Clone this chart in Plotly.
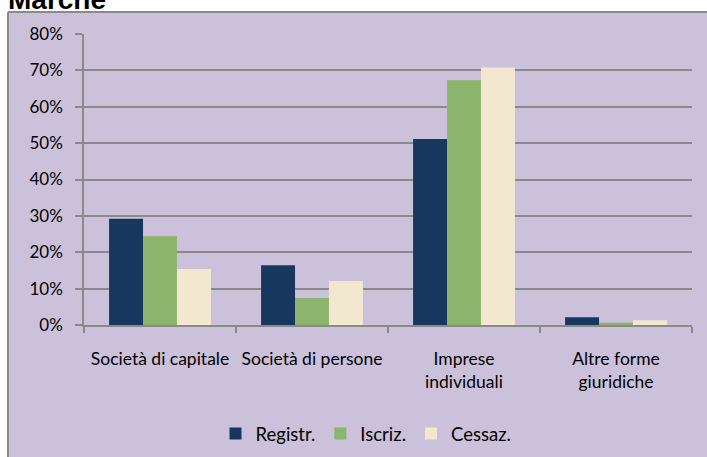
import plotly.graph_objects as go

categories = ["Società di capitale", "Società di persone", "Imprese<br>individuali", "Altre forme<br>giuridiche"]
registr = [0.292, 0.164, 0.511, 0.021]
iscriz = [0.244, 0.074, 0.673, 0.006]
cessaz = [0.154, 0.121, 0.708, 0.013]
series_names = ["Registr.", "Iscriz.", "Cessaz."]
y_ticks = [0, 0.1, 0.2, 0.3, 0.4, 0.5, 0.6, 0.7, 0.8]
y_tick_text = ["0%", "10%", "20%", "30%", "40%", "50%", "60%", "70%", "80%"]

colors = ["#17375E", "#8DB46C", "#F2E8CF"]
FONT = "Lato"
GRID = "#8A8A8A"
LAV = "#CCC1DA"

fig = go.Figure()
for name, vals, col in zip(series_names, [registr, iscriz, cessaz], colors):
    fig.add_trace(go.Bar(x=categories, y=vals, name=name,
                         marker=dict(color=col, line=dict(width=0))))

W, H = 707, 457
L, R, T, B = 84, 15, 34, 132
pw, ph = W - L - R, H - T - B

def px_x(p):
    return (p - L) / pw

def px_y(p):
    return (H - B - p) / ph

fig.update_layout(
    width=W, height=H,
    margin=dict(l=L, r=R, t=T, b=B, autoexpand=False),
    paper_bgcolor=LAV,
    plot_bgcolor="rgba(0,0,0,0)",
    barmode="group", bargap=0.33, bargroupgap=0,
    font=dict(family=FONT, size=17, color="black"),
    showlegend=True,
    legend=dict(orientation="h", x=px_x(366), xanchor="center",
                y=px_y(434), yanchor="middle",
                font=dict(family=FONT, size=18.5, color="black"),
                itemwidth=30, bgcolor="rgba(0,0,0,0)", traceorder="normal"),
    shapes=[
        dict(type="rect", xref="paper", yref="paper",
             x0=px_x(-5), x1=px_x(8), y0=px_y(470), y1=px_y(-5),
             fillcolor="white", line=dict(width=0), layer="below"),
        dict(type="rect", xref="paper", yref="paper",
             x0=px_x(-5), x1=px_x(720), y0=px_y(12), y1=px_y(-5),
             fillcolor="white", line=dict(width=0), layer="below"),
        dict(type="line", xref="paper", yref="paper",
             x0=px_x(8), x1=px_x(720), y0=px_y(12), y1=px_y(12),
             line=dict(color=GRID, width=2), layer="below"),
        dict(type="line", xref="paper", yref="paper",
             x0=px_x(8), x1=px_x(8), y0=px_y(470), y1=px_y(12),
             line=dict(color=GRID, width=2), layer="below"),
    ],
    annotations=[dict(text="<b>Marche</b>", xref="paper", yref="paper",
                      x=px_x(6), xanchor="left", y=px_y(-0.5), yanchor="middle",
                      showarrow=False, font=dict(family="Liberation Sans", size=28, color="black"))],
)

fig.update_yaxes(range=[0, 0.8], tickvals=y_ticks, ticktext=y_tick_text,
                 showgrid=True, gridcolor=GRID, gridwidth=1.5,
                 showline=True, linecolor=GRID, linewidth=1.5,
                 ticks="outside", ticklen=7, tickcolor=GRID, tickwidth=1.5,
                 zeroline=False, ticklabelstandoff=9, automargin=False,
                 tickfont=dict(family=FONT, size=17, color="black"))
fig.update_xaxes(showgrid=False, showline=True, linecolor=GRID, linewidth=2,
                 ticks="outside", ticklen=6, tickcolor=GRID, tickwidth=1.5,
                 tickson="boundaries", ticklabelstandoff=17, tickangle=0,
                 automargin=False,
                 tickfont=dict(family=FONT, size=17.5, color="black"))

fig.write_html("out.html", config={"displayModeBar": False},
               post_script="document.documentElement.style.overflow='hidden';document.body.style.margin='0';document.body.style.overflow='hidden';")
